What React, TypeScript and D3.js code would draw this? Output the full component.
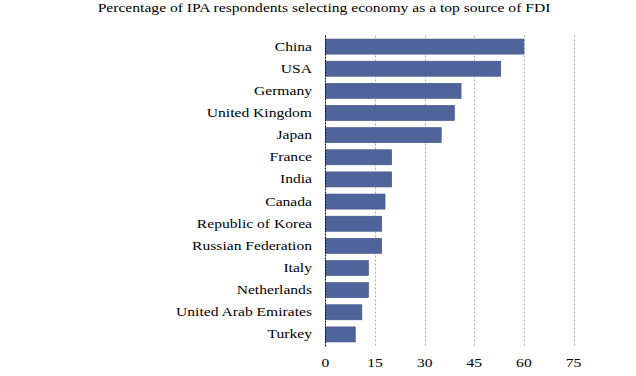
import React from "react";
import * as d3 from "d3";

const countries = [
  "China",
  "USA",
  "Germany",
  "United Kingdom",
  "Japan",
  "France",
  "India",
  "Canada",
  "Republic of Korea",
  "Russian Federation",
  "Italy",
  "Netherlands",
  "United Arab Emirates",
  "Turkey",
];
const percentages = [60, 53, 41, 39, 35, 20, 20, 18, 17, 17, 13, 13, 11, 9];
const xTicks = [0, 15, 30, 45, 60, 75];
const title = "Percentage of IPA respondents selecting economy as a top source of FDI";

const FONT = "Liberation Serif";
const FS = 12;
const SX = 1.3;

function T({
  x,
  y,
  anchor,
  children,
}: {
  x: number;
  y: number;
  anchor: "start" | "middle" | "end";
  children: React.ReactNode;
}) {
  return (
    <text
      transform={`translate(${x},${y}) scale(${SX},1)`}
      textAnchor={anchor}
      style={{ fontFamily: FONT, fontSize: FS }}
      fill="#000"
    >
      {children}
    </text>
  );
}

export default function App() {
  const W = 636;
  const H = 376;
  const left = 325.5;
  const right = 573.5;
  const top = 35.5;
  const bottom = 345.5;

  const x = d3.scaleLinear().domain([0, 75]).range([left, right]);
  const y = d3
    .scaleBand<string>()
    .domain(countries)
    .range([top, bottom])
    .paddingInner(0.32)
    .paddingOuter(0.16);

  return (
    <svg
      width={W}
      height={H}
      style={{ position: "absolute", left: 0, top: 0, background: "#fff" }}
    >
      <T x={324} y={11.5} anchor="middle">
        {title}
      </T>
      {xTicks.slice(1).map((t) => (
        <line
          key={"g" + t}
          x1={Math.round(x(t)) + 0.5}
          x2={Math.round(x(t)) + 0.5}
          y1={top}
          y2={bottom}
          stroke="#aaa"
          strokeWidth={1}
          strokeDasharray="2,2"
        />
      ))}
      {countries.map((c, i) => (
        <rect
          key={c}
          x={x(0)}
          y={y(c)}
          width={x(percentages[i]) - x(0)}
          height={y.bandwidth()}
          fill="#50649c"
          stroke="#3d4f82"
          strokeWidth={0.6}
        />
      ))}
      <line
        x1={left}
        x2={left}
        y1={top}
        y2={bottom + 2}
        stroke="#000"
        strokeWidth={1}
        strokeDasharray="2,1"
      />
      {countries.map((c) => (
        <T key={"l" + c} x={312} y={(y(c) ?? 0) + y.bandwidth() / 2 + 4} anchor="end">
          {c}
        </T>
      ))}
      {xTicks.map((t) => (
        <T key={"t" + t} x={x(t)} y={367} anchor="middle">
          {t}
        </T>
      ))}
    </svg>
  );
}
